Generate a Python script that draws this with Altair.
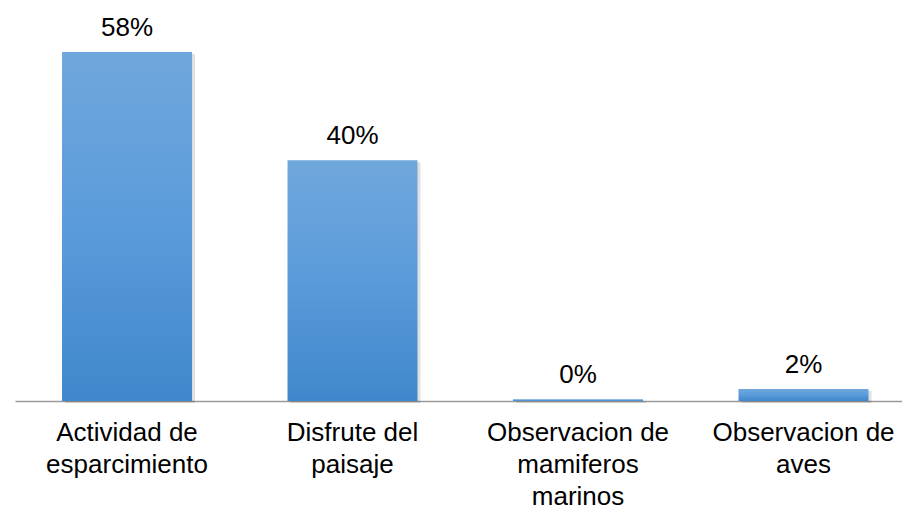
import altair as alt
import pandas as pd

categories = [
    ["Actividad de", "esparcimiento"],
    ["Disfrute del", "paisaje"],
    ["Observacion de", "mamiferos", "marinos"],
    ["Observacion de", "aves"],
]
cat_keys = [" ".join(c) for c in categories]
values = [58, 40, 0.3, 2]
labels = ["58%", "40%", "0%", "2%"]

df = pd.DataFrame({"cat": cat_keys, "value": values, "label": labels})

label_expr = " : ".join(
    [f"datum.value == '{k}' ? {c!r}" for k, c in zip(cat_keys[:-1], categories[:-1])]
    + [repr(categories[-1])]
)

x = alt.X(
    "cat:N", sort=cat_keys, title=None,
    scale=alt.Scale(paddingInner=0.4235, paddingOuter=0.1785, align=0.584),
    axis=alt.Axis(
        labelAngle=0, labelExpr=label_expr, ticks=False, labelPadding=18,
        labelFont="Liberation Sans", labelFontSize=26, labelColor="#000000",
        labelLineHeight=32, labelLimit=400,
        domainColor="#9a9a9a", domainWidth=1.5, grid=False,
    ),
)
y = alt.Y("value:Q", scale=alt.Scale(domain=[0, 60]), axis=None)

grad = alt.LinearGradient(
    gradient="linear", x1=0, y1=0, x2=0, y2=1,
    stops=[alt.GradientStop(color="#70a7dc", offset=0),
           alt.GradientStop(color="#5a9bda", offset=0.5),
           alt.GradientStop(color="#3f87cc", offset=1)],
)

shadow = alt.Chart(df).mark_bar(color="#000000", opacity=0.12, xOffset=3, yOffset=2).encode(x=x, y=y)
bars = alt.Chart(df).mark_bar(color=grad).encode(x=x, y=y)
text = alt.Chart(df).mark_text(
    font="Liberation Sans", fontSize=26, color="#000000", dy=-16, baseline="alphabetic"
).encode(x=x, y=y, text="label:N")

chart = (
    alt.layer(shadow, bars, text)
    .properties(width=887, height=361, padding={"left": 7, "top": 32, "right": 0, "bottom": 106},
                autosize=alt.AutoSizeParams(type="none"))
    .configure(background="white", view=alt.ViewConfig(stroke=None, strokeWidth=0))
)

chart.save("out.html", embed_options={"renderer": "svg", "actions": False})
